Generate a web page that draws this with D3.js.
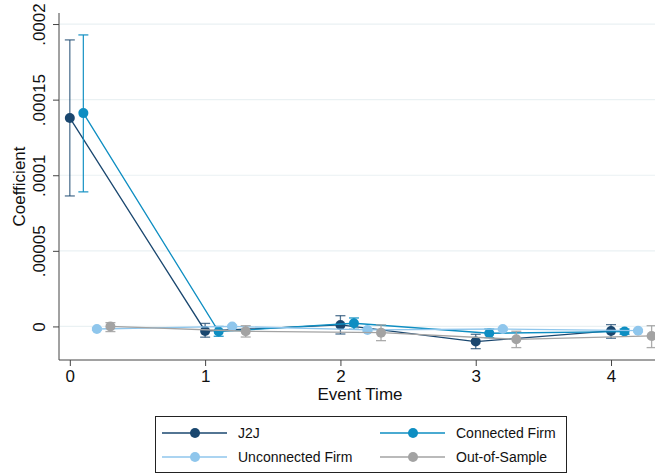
<!DOCTYPE html>
<html>
<head>
<meta charset="utf-8">
<script src="https://cdn.jsdelivr.net/npm/d3@7"></script>
<style>
  body { margin: 0; background: #fff; }
  text { font-family: "Liberation Sans", Arial, sans-serif; fill: #111; }
</style>
</head>
<body>
<svg id="vis" width="655" height="476"></svg>
<script>
const eventTimes = [0, 1, 2, 3, 4];
const seriesNames = ["J2J", "Connected Firm", "Unconnected Firm", "Out-of-Sample"];
const seriesColors = ["#1a476f", "#0e8ec2", "#8fc6ec", "#a3a3a3"];
const seriesOffsets = [0, 0.1, 0.2, 0.3];

const j2jCoef = [0.0001379, -0.0000030, 0.0000010, -0.0000100, -0.0000030];
const j2jLow  = [0.0000863, -0.0000071, -0.0000050, -0.0000147, -0.0000078];
const j2jHigh = [0.0001895, 0.0000020, 0.0000071, -0.0000052, 0.0000012];

const connCoef = [0.0001411, -0.0000034, 0.0000021, -0.0000045, -0.0000034];
const connLow  = [0.0000890, -0.0000065, -0.0000019, -0.0000074, -0.0000052];
const connHigh = [0.0001928, 0.0000000, 0.0000056, -0.0000017, -0.0000017];

const unconnCoef = [-0.0000017, 0.0000000, -0.0000023, -0.0000017, -0.0000028];
const unconnLow  = [-0.0000025, -0.0000008, -0.0000031, -0.0000025, -0.0000036];
const unconnHigh = [-0.0000009, 0.0000008, -0.0000015, -0.0000009, -0.0000020];

const oosCoef = [0.0000000, -0.0000032, -0.0000041, -0.0000085, -0.0000063];
const oosLow  = [-0.0000034, -0.0000070, -0.0000094, -0.0000140, -0.0000140];
const oosHigh = [0.0000025, 0.0000005, 0.0000010, -0.0000032, 0.0000005];

const yTicks = [0, 0.00005, 0.0001, 0.00015, 0.0002];
const yTickLabels = ["0", ".00005", ".0001", ".00015", ".0002"];

const allSeries = [
  {coef: j2jCoef, low: j2jLow, high: j2jHigh},
  {coef: connCoef, low: connLow, high: connHigh},
  {coef: unconnCoef, low: unconnLow, high: unconnHigh},
  {coef: oosCoef, low: oosLow, high: oosHigh}
].map((s, i) => ({
  name: seriesNames[i],
  color: seriesColors[i],
  pts: eventTimes.map((t, j) => ({x: t + seriesOffsets[i], y: s.coef[j], lo: s.low[j], hi: s.high[j]}))
}));

const svg = d3.select("#vis");
const mLeft = 59, mRight = 655, mTop = 13, mBottom = 360;
const font = "Liberation Sans, Arial, sans-serif";

const x = d3.scaleLinear().domain([-0.08, 4.325]).range([mLeft, mRight]);
const y = d3.scaleLinear().domain([-0.0000222, 0.0002073]).range([mBottom, mTop]);

// gridlines
svg.append("g").selectAll("line").data(yTicks).join("line")
  .attr("x1", mLeft + 1).attr("x2", mRight)
  .attr("y1", d => y(d)).attr("y2", d => y(d))
  .attr("stroke", "#eaf1f3").attr("stroke-width", 1.2);

// y axis
const yAxis = svg.append("g").attr("transform", `translate(${mLeft},0)`)
  .call(d3.axisLeft(y).tickValues(yTicks).tickFormat((d, i) => yTickLabels[i]).tickSize(6).tickSizeOuter(0));
yAxis.select(".domain").attr("stroke", "#444").attr("d", `M0,${mTop}V${mBottom}`);
yAxis.selectAll(".tick line").attr("stroke", "#444");
yAxis.selectAll(".tick text")
  .attr("x", 0).attr("dy", 0)
  .attr("transform", "translate(-14,0) rotate(-90)")
  .attr("text-anchor", "middle")
  .style("font-size", "17px").style("font-family", font).attr("fill", "#111");

// x axis
const xAxis = svg.append("g").attr("transform", `translate(0,${mBottom})`)
  .call(d3.axisBottom(x).tickValues(eventTimes).tickFormat(d3.format("d")).tickSize(6).tickSizeOuter(0));
xAxis.select(".domain").attr("stroke", "#444").attr("d", `M${mLeft},0H${mRight}`);
xAxis.selectAll(".tick line").attr("stroke", "#444");
xAxis.selectAll(".tick text").attr("y", 10)
  .style("font-size", "17px").style("font-family", font).attr("fill", "#111");

// titles
svg.append("text").attr("transform", `translate(25,${(mTop + mBottom) / 2}) rotate(-90)`)
  .attr("text-anchor", "middle").style("font-size", "17px").text("Coefficient");
svg.append("text").attr("x", (mLeft + mRight) / 2 + 3).attr("y", 400)
  .attr("text-anchor", "middle").style("font-size", "17px").text("Event Time");

// series: lines, CIs, markers (later series drawn on top)
const line = d3.line().x(d => x(d.x)).y(d => y(d.y));
const plot = svg.append("g");
allSeries.forEach((s, i) => {
  const g = plot.append("g");
  g.append("path").datum(s.pts).attr("d", line)
    .attr("fill", "none").attr("stroke", s.color).attr("stroke-width", 1.3);
  const ci = g.append("g").attr("stroke", s.color).attr("stroke-width", 1.3)
    .attr("stroke-opacity", i === 0 ? 0.75 : 0.9);
  ci.selectAll("line.v").data(s.pts).join("line").attr("class", "v")
    .attr("x1", d => x(d.x)).attr("x2", d => x(d.x))
    .attr("y1", d => y(d.lo)).attr("y2", d => y(d.hi));
  ci.selectAll("line.lo").data(s.pts).join("line").attr("class", "lo")
    .attr("x1", d => x(d.x) - 5).attr("x2", d => x(d.x) + 5)
    .attr("y1", d => y(d.lo)).attr("y2", d => y(d.lo));
  ci.selectAll("line.hi").data(s.pts).join("line").attr("class", "hi")
    .attr("x1", d => x(d.x) - 5).attr("x2", d => x(d.x) + 5)
    .attr("y1", d => y(d.hi)).attr("y2", d => y(d.hi));
  g.selectAll("circle").data(s.pts).join("circle")
    .attr("cx", d => x(d.x)).attr("cy", d => y(d.y)).attr("r", 5)
    .attr("fill", s.color);
});

// legend
const lg = svg.append("g");
lg.append("rect").attr("x", 155.5).attr("y", 416.5).attr("width", 411).attr("height", 56)
  .attr("fill", "#fff").attr("stroke", "#222").attr("stroke-width", 1);
const legendPos = [[162, 433], [380, 433], [162, 457], [380, 457]];
allSeries.forEach((s, i) => {
  const [lx, ly] = legendPos[i];
  const item = lg.append("g").attr("transform", `translate(${lx},${ly})`);
  item.append("line").attr("x1", 0).attr("x2", 65).attr("y1", 0).attr("y2", 0)
    .attr("stroke", s.color).attr("stroke-width", 1.3);
  item.append("circle").attr("cx", 33).attr("cy", 0).attr("r", 5).attr("fill", s.color);
  item.append("text").attr("x", 76).attr("y", 5).style("font-size", "14px").text(s.name);
});
</script>
</body>
</html>
